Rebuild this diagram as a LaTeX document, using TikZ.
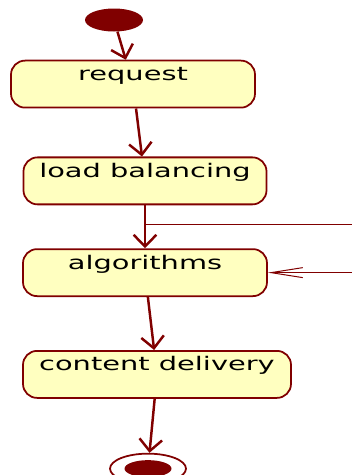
\documentclass[tikz,border=0pt]{standalone}
\usepackage{fontspec}
\usepackage{xcolor}
\usetikzlibrary{positioning}
\usetikzlibrary{calc}
\usetikzlibrary{shapes.geometric}
\usetikzlibrary{arrows.meta}

\newfontfamily\actfont[FakeStretch=1.54]{DejaVu Sans}
\definecolor{actred}{RGB}{128,0,0}
\definecolor{actfill}{RGB}{255,255,192}

\begin{document}
\begin{tikzpicture}[actnode/.style={rectangle,draw=actred,fill=actfill,line width=1.5pt,rounded corners=0.42cm,
		font=\actfont\fontsize{16}{19}\selectfont,text=black,inner xsep=0pt,inner ysep=0pt,text height=0.6cm,text depth=0.81cm},
	flow/.style={draw=actred,line width=2.1pt,-{Straight Barb[length=0.35cm,width=0.68cm]}},
	loopline/.style={draw=actred,line width=0.85pt},
	dot/.style={ellipse,fill=actred,inner sep=0pt}]
	\useasboundingbox (0,0) rectangle (10.56,-14.25);
	\coordinate (edge) at (10.56,0);
	\node[dot,minimum width=1.74cm,minimum height=0.69cm] (start) at (3.42,-0.6) {};
	\node[actnode,minimum width=7.32cm] (request) [below = 0.84cm of start, xshift=0.57cm] {request};
	\node[actnode,minimum width=7.29cm] (balance) [below = 1.44cm of request, xshift=0.36cm] {load balancing};
	\node[actnode,minimum width=7.32cm] (algo) [below = 1.29cm of balance] {algorithms};
	\node[actnode,minimum width=8.04cm] (delivery) [below = 1.59cm of algo, xshift=0.36cm] {content delivery};
	\node[ellipse,draw=actred,line width=1.5pt,fill=white,minimum width=2.28cm,minimum height=0.9cm,inner sep=0pt] (stop) [below = 1.62cm of delivery, xshift=-0.27cm] {};
	\node[dot,minimum width=1.41cm,minimum height=0.51cm] (stopdot) at (stop) {};
	\draw[flow] (start) -- (request);
	\draw[flow] (request) -- (balance);
	\draw[flow] (balance) -- (algo);
	\draw[flow] (algo) -- (delivery);
	\draw[flow] (delivery) -- (stop);
	% side branch leaving and coming back to algorithms
	\coordinate (fork) at ($(balance.south)!0.44!(algo.north)$);
	\draw[loopline] (fork) -- (fork -| edge);
	\draw[loopline,-{Straight Barb[length=0.95cm,width=0.3cm]}] (algo.east -| edge) -- (algo.east);
\end{tikzpicture}
\end{document}
